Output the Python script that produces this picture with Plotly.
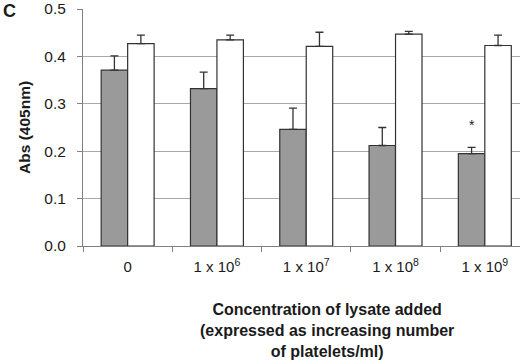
import plotly.graph_objects as go

categories = ["0", "1 x 10<sup>6</sup>", "1 x 10<sup>7</sup>", "1 x 10<sup>8</sup>", "1 x 10<sup>9</sup>"]
gray_vals = [0.371, 0.332, 0.246, 0.212, 0.195]
gray_err = [0.030, 0.035, 0.045, 0.038, 0.013]
white_vals = [0.427, 0.435, 0.421, 0.447, 0.423]
white_err = [0.018, 0.010, 0.030, 0.006, 0.022]
y_ticks = [0.0, 0.1, 0.2, 0.3, 0.4, 0.5]
significant = [False, False, False, False, True]

BARGAP = 0.407
TXT = "#1a1a1a"
FONT = "Liberation Sans, Arial, sans-serif"

fig = go.Figure()
fig.add_trace(go.Bar(
    x=categories, y=gray_vals,
    marker=dict(color="#9a9a9a", line=dict(color="#333333", width=1.2)),
    error_y=dict(type="data", symmetric=False, array=gray_err,
                 arrayminus=[0] * len(gray_err), color="#333333",
                 thickness=1.3, width=4),
    showlegend=False, hoverinfo="skip",
))
fig.add_trace(go.Bar(
    x=categories, y=white_vals,
    marker=dict(color="#ffffff", line=dict(color="#333333", width=1.2)),
    error_y=dict(type="data", symmetric=False, array=white_err,
                 arrayminus=[0] * len(white_err), color="#333333",
                 thickness=1.3, width=4),
    showlegend=False, hoverinfo="skip",
))

annotations = []
half = (1 - BARGAP) / 4
for i, sig in enumerate(significant):
    if sig:
        annotations.append(dict(
            x=i - half, y=gray_vals[i] + gray_err[i], xref="x", yref="y",
            text="*", showarrow=False, xanchor="center", yanchor="bottom",
            yshift=12, font=dict(family=FONT, size=14, color=TXT)))

annotations += [
    dict(x=-0.169, y=0.992, xref="paper", yref="paper", text="<b>C</b>",
         showarrow=False, xanchor="center", yanchor="middle",
         font=dict(family=FONT, size=18, color=TXT)),
    dict(x=-0.134, y=0.5, xref="paper", yref="paper", text="<b>Abs (405nm)</b>",
         textangle=-90, showarrow=False, xanchor="center", yanchor="middle",
         font=dict(family=FONT, size=15.5, color=TXT)),
    dict(x=0.558, y=-0.357, xref="paper", yref="paper",
         text="<b>Concentration of lysate added<br>(expressed as increasing number<br>of platelets/ml)</b>",
         showarrow=False, xanchor="center", yanchor="middle", align="center",
         font=dict(family=FONT, size=16, color=TXT)),
]

fig.update_layout(
    width=520, height=360,
    margin=dict(l=83, r=0, t=9, b=114),
    paper_bgcolor="white", plot_bgcolor="white",
    barmode="group", bargap=BARGAP, bargroupgap=0,
    annotations=annotations,
    font=dict(family=FONT, color=TXT),
    hovermode=False,
)
fig.update_xaxes(
    type="category", range=[-0.5, 4.394], tickson="boundaries",
    ticks="outside", ticklen=5, tickcolor="#808080", tickwidth=1,
    showline=True, linecolor="#808080", linewidth=1,
    showgrid=False, ticklabelstandoff=7,
    tickfont=dict(family=FONT, size=15, color=TXT),
)
fig.update_yaxes(
    range=[0, 0.5], tickvals=y_ticks, tickformat=".1f",
    ticks="outside", ticklen=5, tickcolor="#808080", tickwidth=1,
    showline=True, linecolor="#808080", linewidth=1,
    showgrid=True, gridcolor="#a8a8a8", gridwidth=1, zeroline=False,
    ticklabelstandoff=8,
    tickfont=dict(family=FONT, size=15.5, color=TXT),
)

# remove the default page margin so the 520x360 figure fills the window
fig.write_html("out.html", config={"displayModeBar": False},
               post_script="document.body.style.margin='0';")
